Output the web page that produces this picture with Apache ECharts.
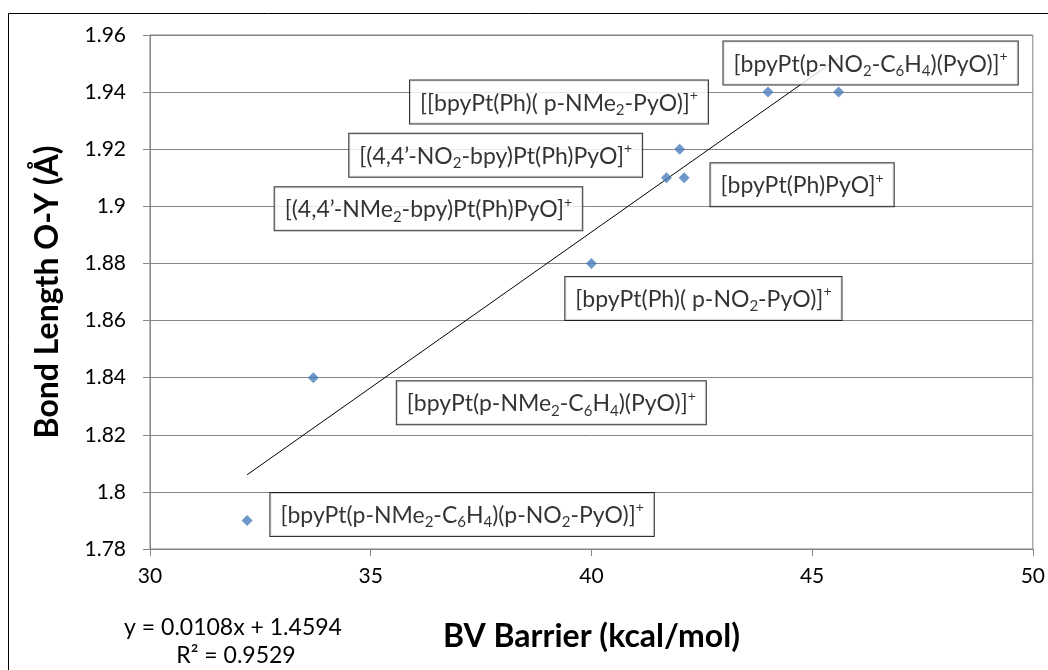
<!DOCTYPE html>
<html>
<head>
<meta charset="utf-8">
<script src="https://cdn.jsdelivr.net/npm/echarts@6/dist/echarts.min.js"></script>
<style>
html,body{margin:0;padding:0;background:#fff;}
#chart{width:1048px;height:670px;}
</style>
</head>
<body>
<div id="chart"></div>
<script>
// ---- data ----
const xValues = [32.2, 33.7, 40.0, 41.7, 42.1, 42.0, 44.0, 45.6];
const yValues = [1.79, 1.84, 1.88, 1.91, 1.91, 1.92, 1.94, 1.94];
const pointLabels = [
  "[bpyPt(p-NMe_2-C_6H_4)(p-NO_2-PyO)]^+",
  "[bpyPt(p-NMe_2-C_6H_4)(PyO)]^+",
  "[bpyPt(Ph)( p-NO_2-PyO)]^+",
  "[(4,4\u2019-NMe_2-bpy)Pt(Ph)PyO]^+",
  "[bpyPt(Ph)PyO]^+",
  "[(4,4\u2019-NO_2-bpy)Pt(Ph)PyO]^+",
  "[[bpyPt(Ph)( p-NMe_2-PyO)]^+",
  "[bpyPt(p-NO_2-C_6H_4)(PyO)]^+"
];
const trendX = [32.2, 45.6];
const trendY = [1.806, 1.952];
const equationText = "y = 0.0108x + 1.4594";
const r2Text = "R\u00b2 = 0.9529";
const xTicks = [30, 35, 40, 45, 50];
const yTicks = [1.78, 1.80, 1.82, 1.84, 1.86, 1.88, 1.90, 1.92, 1.94, 1.96];

// ---- layout (label offsets from their point, px) ----
const labelOffsets = [
  [215, -6], [238, 25], [112, 35], [-238, 31],
  [118, 7], [-184, 6], [-209, 10], [32, -29]
];

const FONT = 'Lato';

function toRich(s) {
  let out = '';
  let buf = '';
  const flush = () => { if (buf) { out += '{n|' + buf + '}'; buf = ''; } };
  for (let i = 0; i < s.length; i++) {
    const c = s[i];
    if (c === '_' || c === '^') {
      flush();
      out += (c === '_' ? '{sub|' : '{sup|') + s[i + 1] + '}';
      i++;
    } else {
      buf += c;
    }
  }
  flush();
  return out;
}

const chart = echarts.init(document.getElementById('chart'), null, {renderer: 'canvas'});

const option = {
  backgroundColor: '#fff',
  animation: false,
  textStyle: {fontFamily: FONT},
  grid: {left: 150, right: 15, top: 35, bottom: 121, show: true, borderColor: '#808080', borderWidth: 1, backgroundColor: 'transparent'},
  xAxis: {
    type: 'value', min: 30, max: 50, interval: 5,
    name: 'BV Barrier (kcal/mol)', nameLocation: 'middle', nameGap: 72,
    nameTextStyle: {fontFamily: FONT, fontSize: 32, fontWeight: 'bold', color: '#000'},
    axisLine: {show: true, lineStyle: {color: '#868686', width: 1}},
    axisTick: {show: true, inside: false, length: 7, lineStyle: {color: '#868686'}},
    axisLabel: {fontFamily: FONT, fontSize: 21, color: '#000', margin: 17,
      formatter: v => xTicks.includes(v) ? String(v) : ''},
    splitLine: {show: false}
  },
  yAxis: {
    type: 'value', min: 1.78, max: 1.96, interval: 0.02,
    name: 'Bond Length O-Y (\u00c5)', nameLocation: 'middle', nameGap: 86, nameRotate: 90,
    nameTextStyle: {fontFamily: FONT, fontSize: 32, fontWeight: 'bold', color: '#000'},
    axisLine: {show: true, lineStyle: {color: '#868686', width: 1}},
    axisTick: {show: true, inside: false, length: 7, lineStyle: {color: '#868686'}},
    axisLabel: {fontFamily: FONT, fontSize: 21, color: '#000', margin: 24,
      formatter: v => {
        const t = yTicks.find(k => Math.abs(k - v) < 1e-9);
        return t === undefined ? '' : String(+t.toFixed(2));
      }},
    splitLine: {show: true, lineStyle: {color: '#868686', width: 1}}
  },
  graphic: [
    {type: 'rect', shape: {x: 8.5, y: 13.5, width: 1100, height: 700}, style: {fill: 'none', stroke: '#000', lineWidth: 1}, z: -1, silent: true},
    {type: 'text', x: 233, y: 628, style: {text: equationText, font: '23px ' + FONT, fill: '#000', align: 'center', verticalAlign: 'middle'}},
    {type: 'text', x: 236, y: 656, style: {text: r2Text, font: '23px ' + FONT, fill: '#000', align: 'center', verticalAlign: 'middle'}}
  ],
  series: [
    {
      type: 'line', z: 2,
      data: trendX.map((x, i) => [x, trendY[i]]),
      symbol: 'none', lineStyle: {color: '#000', width: 1}, silent: true
    },
    {
      type: 'scatter', z: 5,
      data: xValues.map((x, i) => [x, yValues[i]]),
      symbol: 'diamond', symbolSize: 11,
      itemStyle: {color: '#4A7EBB'},
      label: {
        show: true, position: 'inside',
        formatter: p => toRich(pointLabels[p.dataIndex]),
        backgroundColor: '#fff', borderColor: '#000', borderWidth: 1,
        padding: [8, 10, 6, 10],
        rich: {
          n: {fontFamily: FONT, fontSize: 23, color: '#000', lineHeight: 29, verticalAlign: 'middle'},
          sub: {fontFamily: FONT, fontSize: 15, color: '#000', lineHeight: 15, verticalAlign: 'bottom'},
          sup: {fontFamily: FONT, fontSize: 14, color: '#000', lineHeight: 16, verticalAlign: 'top'}
        }
      },
      labelLayout: p => ({dx: labelOffsets[p.dataIndex][0], dy: labelOffsets[p.dataIndex][1]})
    }
  ]
};
chart.setOption(option);
</script>
</body>
</html>
